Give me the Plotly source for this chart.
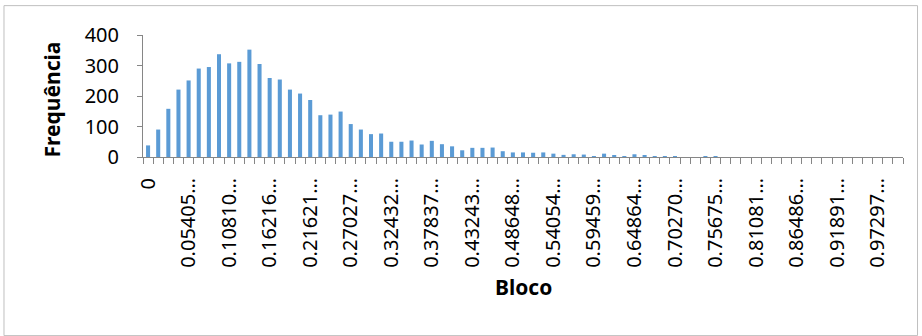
import plotly.graph_objects as go

# Block value categories (steps of 1/74 from 0 to 1)
n_bins = 75
bloco = [f"{i / 74:.9f}" for i in range(n_bins)]

# Frequency count for each block category
frequencia = [
    38, 90, 158, 221, 251, 290, 295, 337, 307, 312,
    352, 305, 259, 254, 221, 208, 187, 137, 139, 149,
    108, 90, 75, 77, 50, 50, 54, 41, 53, 42,
    35, 22, 30, 30, 31, 19, 15, 15, 14, 15,
    11, 7, 9, 8, 2, 11, 5, 2, 9, 5,
    1, 1, 3, 0, 0, 2, 1, 0, 0, 0,
    0, 0, 0, 0, 0, 0, 0, 0, 0, 0,
    0, 0, 0, 0, 0,
]

# Labels shown on every fourth category, truncated as in the spreadsheet
tick_labels = [
    "0", "0.05405…", "0.10810…", "0.16216…", "0.21621…", "0.27027…",
    "0.32432…", "0.37837…", "0.43243…", "0.48648…", "0.54054…",
    "0.59459…", "0.64864…", "0.70270…", "0.75675…", "0.81081…",
    "0.86486…", "0.91891…", "0.97297…",
]
tick_cats = bloco[::4]

y_ticks = [0, 100, 200, 300, 400]

AXIS_GREY = "#868686"
FONT = "Noto Sans"

fig = go.Figure()
fig.add_trace(go.Bar(
    x=bloco,
    y=frequencia,
    marker=dict(color="#5B9BD5", line=dict(width=0)),
    xaxis="x",
    yaxis="y",
    showlegend=False,
))

fig.update_layout(
    width=922,
    height=336,
    margin=dict(l=143, r=19, t=35, b=179),
    paper_bgcolor="white",
    plot_bgcolor="white",
    bargap=0.6,
    font=dict(family=FONT, size=17, color="#000000"),
    xaxis=dict(
        type="category",
        range=[-0.5, n_bins - 0.5],
        tickmode="array",
        tickvals=tick_cats,
        ticktext=tick_labels,
        tickangle=-90,
        ticks="",
        showline=True,
        linecolor=AXIS_GREY,
        linewidth=1,
        showgrid=False,
        zeroline=False,
        ticklabelstandoff=12,
        tickfont=dict(family=FONT, size=20, color="#000000"),
    ),
    # overlay axis carrying the tick marks between every category
    xaxis2=dict(
        type="linear",
        overlaying="x",
        side="bottom",
        range=[-0.5, n_bins - 0.5],
        tickmode="array",
        tickvals=[i - 0.5 for i in range(n_bins + 1)],
        ticks="outside",
        ticklen=6,
        tickcolor=AXIS_GREY,
        tickwidth=1,
        showticklabels=False,
        showline=False,
        showgrid=False,
        zeroline=False,
    ),
    yaxis=dict(
        range=[0, 400],
        tickmode="array",
        tickvals=y_ticks,
        ticks="outside",
        ticklen=5,
        tickcolor=AXIS_GREY,
        showline=True,
        linecolor=AXIS_GREY,
        linewidth=1,
        showgrid=False,
        zeroline=False,
        ticklabelstandoff=14,
        tickfont=dict(family=FONT, size=20, color="#000000"),
    ),
    annotations=[
        dict(
            text="<b>Frequência</b>",
            xref="paper", yref="paper",
            x=-0.12, y=0.47,
            xanchor="center", yanchor="middle",
            textangle=-90,
            showarrow=False,
            font=dict(family=FONT, size=21, color="#000000"),
        ),
        dict(
            text="<b>Bloco</b>",
            xref="paper", yref="paper",
            x=0.5, y=-1.065,
            xanchor="center", yanchor="middle",
            showarrow=False,
            font=dict(family=FONT, size=21, color="#000000"),
        ),
    ],
    shapes=[
        dict(
            type="rect",
            xref="paper", yref="paper",
            x0=-0.1829, x1=1.0191,
            y0=-1.464, y1=1.2407,
            line=dict(color="#BFBFBF", width=1),
            fillcolor="rgba(0,0,0,0)",
        ),
    ],
)

# invisible marker so the overlay axis is rendered
fig.add_trace(go.Scatter(
    x=[-0.5], y=[0], xaxis="x2", yaxis="y",
    mode="markers", marker=dict(opacity=0), showlegend=False, hoverinfo="skip",
))

fig.write_html("out.html")
